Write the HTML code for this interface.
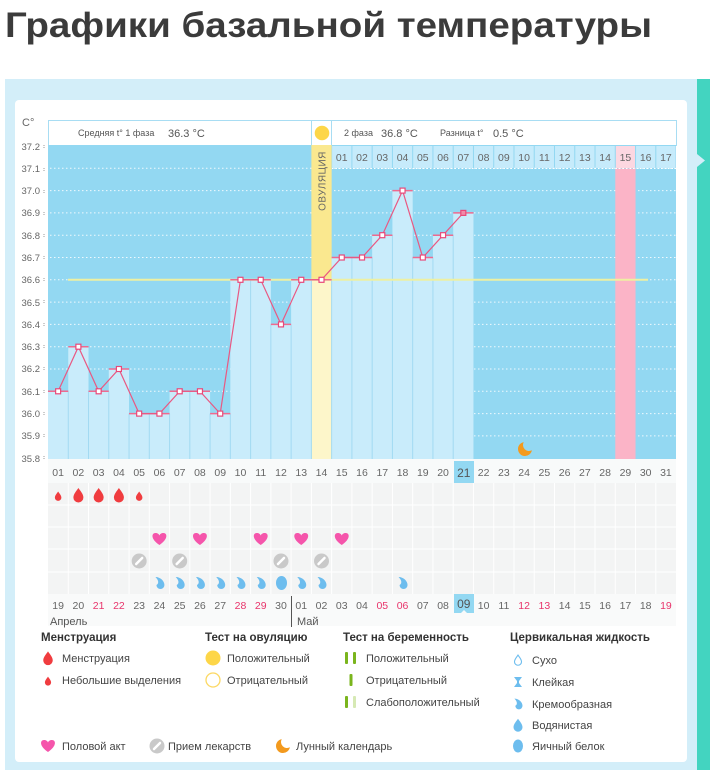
<!DOCTYPE html>
<html><head><meta charset="utf-8">
<style>
html,body{margin:0;padding:0;background:#fff;}
svg{display:block;}
text{font-family:"Liberation Sans",sans-serif;}
</style></head>
<body>
<svg width="710" height="770" viewBox="0 0 710 770" xmlns="http://www.w3.org/2000/svg">
<defs>
<path id="drop" d="M0,-7 C2,-4 5,-1 5,2.5 A5,5 0 0 1 -5,2.5 C-5,-1 -2,-4 0,-7Z"/>
<path id="heart" d="M0,6 C-9,0 -8,-6 -4,-6 C-2,-6 -0.5,-5 0,-3.5 C0.5,-5 2,-6 4,-6 C8,-6 9,0 0,6Z"/>
<g id="pill"><circle r="7.5" fill="#c9c9c9"/><line x1="-3" y1="3" x2="3" y2="-3" stroke="#fff" stroke-width="2.5" stroke-linecap="round"/></g>
<path id="cream" d="M-4,-6 C1,-6 5,-2 5,2 A4,4 0 0 1 -3,2 C-1,1 0,-2 -4,-6Z"/>
<path id="moon" d="M-1.26,-6.89 A7,7 0 1 0 6.89,1.26 A6,6 0 0 1 -1.26,-6.89Z"/>
</defs>

<!-- title -->
<text x="5" y="37" font-size="35" font-weight="bold" fill="#3b3b3b" textLength="647" lengthAdjust="spacingAndGlyphs">Графики базальной температуры</text>

<!-- panels -->
<rect x="5" y="79" width="692" height="691" fill="#d3eef9"/>
<rect x="697" y="79" width="13" height="691" fill="#43d4c0"/>
<path d="M697,154 L705,160.5 L697,167Z" fill="#d3eef9"/>
<rect x="15" y="100" width="672" height="662" rx="4" fill="#fff"/>

<!-- axis label -->
<text x="22" y="126" font-size="11" fill="#666">C°</text>

<!-- header row -->
<rect x="48.5" y="120.5" width="628" height="25" fill="#fff" stroke="#a8ddf3"/>
<line x1="311.5" y1="120" x2="311.5" y2="145" stroke="#a8ddf3"/>
<line x1="331.5" y1="120" x2="331.5" y2="145" stroke="#a8ddf3"/>
<text x="78" y="136" font-size="9" fill="#555">Средняя t° 1 фаза</text>
<text x="168" y="137" font-size="11" fill="#555">36.3 °C</text>
<circle cx="322" cy="133" r="7.3" fill="#fdd648"/>
<text x="344" y="136" font-size="9" fill="#555">2 фаза</text>
<text x="381" y="137" font-size="11" fill="#555">36.8 °C</text>
<text x="440" y="136" font-size="9" fill="#555">Разница t°</text>
<text x="493" y="137" font-size="11" fill="#555">0.5 °C</text>

<!-- chart bg -->
<rect x="48" y="145" width="628" height="314" fill="#93d8f2"/>

<!-- grid dotted -->
<g stroke="#ffffff" stroke-opacity="0.85" stroke-width="1" stroke-dasharray="1.5,2.5">
<line x1="50" y1="168.3" x2="676" y2="168.3"/>
<line x1="50" y1="190.6" x2="676" y2="190.6"/>
<line x1="50" y1="212.9" x2="676" y2="212.9"/>
<line x1="50" y1="235.2" x2="676" y2="235.2"/>
<line x1="50" y1="257.5" x2="676" y2="257.5"/>
<line x1="50" y1="279.8" x2="676" y2="279.8"/>
<line x1="50" y1="302.1" x2="676" y2="302.1"/>
<line x1="50" y1="324.4" x2="676" y2="324.4"/>
<line x1="50" y1="346.7" x2="676" y2="346.7"/>
<line x1="50" y1="369" x2="676" y2="369"/>
<line x1="50" y1="391.3" x2="676" y2="391.3"/>
<line x1="50" y1="413.6" x2="676" y2="413.6"/>
<line x1="50" y1="435.9" x2="676" y2="435.9"/>
</g>

<!-- y labels -->
<g font-size="9.5" fill="#666" text-anchor="end">
<text x="40" y="150">37.2</text>
<text x="40" y="172">37.1</text>
<text x="40" y="194">37.0</text>
<text x="40" y="216">36.9</text>
<text x="40" y="239">36.8</text>
<text x="40" y="261">36.7</text>
<text x="40" y="283">36.6</text>
<text x="40" y="306">36.5</text>
<text x="40" y="328">36.4</text>
<text x="40" y="350">36.3</text>
<text x="40" y="372">36.2</text>
<text x="40" y="395">36.1</text>
<text x="40" y="417">36.0</text>
<text x="40" y="439">35.9</text>
<text x="40" y="462">35.8</text>
</g>
<g stroke="#999" stroke-width="1" stroke-dasharray="1,1">
<line x1="44" y1="145" x2="44" y2="149"/><line x1="44" y1="168" x2="44" y2="171"/><line x1="44" y1="190" x2="44" y2="193"/><line x1="44" y1="212" x2="44" y2="216"/><line x1="44" y1="234" x2="44" y2="238"/><line x1="44" y1="256" x2="44" y2="260"/><line x1="44" y1="278" x2="44" y2="282"/><line x1="44" y1="300" x2="44" y2="304"/><line x1="44" y1="323" x2="44" y2="327"/><line x1="44" y1="345" x2="44" y2="349"/><line x1="44" y1="367" x2="44" y2="371"/><line x1="44" y1="390" x2="44" y2="394"/><line x1="44" y1="412" x2="44" y2="416"/><line x1="44" y1="434" x2="44" y2="438"/><line x1="44" y1="456" x2="44" y2="460"/>
</g>

<!-- ovulation column & pink column -->
<rect x="311.38" y="145" width="20.26" height="314" fill="#fae88f"/>
<rect x="311.38" y="279.8" width="20.26" height="179.2" fill="#fdf6ca"/>
<rect x="615.28" y="168.5" width="20.26" height="290.5" fill="#fbb4c7"/>
<text transform="translate(325.5,181) rotate(-90)" font-size="10" fill="#666" text-anchor="middle" letter-spacing="0.5">ОВУЛЯЦИЯ</text>

<!-- bars -->
<g fill="#c9ecfb">
<rect x="48" y="391.3" width="20.26" height="67.7"/>
<rect x="68.26" y="346.7" width="20.26" height="112.3"/>
<rect x="88.52" y="391.3" width="20.26" height="67.7"/>
<rect x="108.78" y="369" width="20.26" height="90"/>
<rect x="129.04" y="413.6" width="20.26" height="45.4"/>
<rect x="149.3" y="413.6" width="20.26" height="45.4"/>
<rect x="169.56" y="391.3" width="20.26" height="67.7"/>
<rect x="189.82" y="391.3" width="20.26" height="67.7"/>
<rect x="210.08" y="413.6" width="20.26" height="45.4"/>
<rect x="230.34" y="279.8" width="20.26" height="179.2"/>
<rect x="250.6" y="279.8" width="20.26" height="179.2"/>
<rect x="270.86" y="324.4" width="20.26" height="134.6"/>
<rect x="291.12" y="279.8" width="20.26" height="179.2"/>
<rect x="331.64" y="257.5" width="20.26" height="201.5"/>
<rect x="351.9" y="257.5" width="20.26" height="201.5"/>
<rect x="372.16" y="235.2" width="20.26" height="223.8"/>
<rect x="392.42" y="190.6" width="20.26" height="268.4"/>
<rect x="412.68" y="257.5" width="20.26" height="201.5"/>
<rect x="432.94" y="235.2" width="20.26" height="223.8"/>
<rect x="453.2" y="212.9" width="20.26" height="246.1"/>
</g>
<!-- bar separators -->
<g stroke="#a2daf2" stroke-width="1">
<line x1="68.26" y1="391.3" x2="68.26" y2="459"/>
<line x1="88.52" y1="391.3" x2="88.52" y2="459"/>
<line x1="108.78" y1="391.3" x2="108.78" y2="459"/>
<line x1="129.04" y1="413.6" x2="129.04" y2="459"/>
<line x1="149.3" y1="413.6" x2="149.3" y2="459"/>
<line x1="169.56" y1="413.6" x2="169.56" y2="459"/>
<line x1="189.82" y1="391.3" x2="189.82" y2="459"/>
<line x1="210.08" y1="413.6" x2="210.08" y2="459"/>
<line x1="230.34" y1="413.6" x2="230.34" y2="459"/>
<line x1="250.6" y1="279.8" x2="250.6" y2="459"/>
<line x1="270.86" y1="324.4" x2="270.86" y2="459"/>
<line x1="291.12" y1="324.4" x2="291.12" y2="459"/>
<line x1="311.38" y1="279.8" x2="311.38" y2="459"/>
<line x1="331.64" y1="279.8" x2="331.64" y2="459"/>
<line x1="351.9" y1="257.5" x2="351.9" y2="459"/>
<line x1="372.16" y1="257.5" x2="372.16" y2="459"/>
<line x1="392.42" y1="235.2" x2="392.42" y2="459"/>
<line x1="412.68" y1="257.5" x2="412.68" y2="459"/>
<line x1="432.94" y1="257.5" x2="432.94" y2="459"/>
<line x1="453.2" y1="235.2" x2="453.2" y2="459"/>
</g>

<!-- phase 2 day header row -->
<g fill="#c6ebfb">
<rect x="332.14" y="146" width="19.26" height="22"/><rect x="352.4" y="146" width="19.26" height="22"/><rect x="372.66" y="146" width="19.26" height="22"/><rect x="392.92" y="146" width="19.26" height="22"/><rect x="413.18" y="146" width="19.26" height="22"/><rect x="433.44" y="146" width="19.26" height="22"/><rect x="453.7" y="146" width="19.26" height="22"/><rect x="473.96" y="146" width="19.26" height="22"/><rect x="494.22" y="146" width="19.26" height="22"/><rect x="514.48" y="146" width="19.26" height="22"/><rect x="534.74" y="146" width="19.26" height="22"/><rect x="555" y="146" width="19.26" height="22"/><rect x="575.26" y="146" width="19.26" height="22"/><rect x="595.52" y="146" width="19.26" height="22"/><rect x="615.78" y="146" width="19.26" height="22" fill="#fcd7e1"/><rect x="636.04" y="146" width="19.26" height="22"/><rect x="656.3" y="146" width="19.26" height="22"/>
</g>
<line x1="332" y1="168.5" x2="676" y2="168.5" stroke="#fff" stroke-dasharray="1.5,2"/>
<g font-size="10.5" fill="#666" text-anchor="middle">
<text x="341.77" y="161">01</text><text x="362.03" y="161">02</text><text x="382.29" y="161">03</text><text x="402.55" y="161">04</text><text x="422.81" y="161">05</text><text x="443.07" y="161">06</text><text x="463.33" y="161">07</text><text x="483.59" y="161">08</text><text x="503.85" y="161">09</text><text x="524.11" y="161">10</text><text x="544.37" y="161">11</text><text x="564.63" y="161">12</text><text x="584.89" y="161">13</text><text x="605.15" y="161">14</text><text x="625.41" y="161">15</text><text x="645.67" y="161">16</text><text x="665.93" y="161">17</text>
</g>

<!-- cover line -->
<line x1="68" y1="279.8" x2="648" y2="279.8" stroke="#eef0a2" stroke-width="2"/>

<!-- temperature line -->
<g stroke="#ef6a8f" stroke-width="1.5">
<line x1="48" y1="391.3" x2="68.26" y2="391.3"/>
<line x1="68.26" y1="346.7" x2="88.52" y2="346.7"/>
<line x1="88.52" y1="391.3" x2="108.78" y2="391.3"/>
<line x1="108.78" y1="369" x2="129.04" y2="369"/>
<line x1="129.04" y1="413.6" x2="149.3" y2="413.6"/>
<line x1="149.3" y1="413.6" x2="169.56" y2="413.6"/>
<line x1="169.56" y1="391.3" x2="189.82" y2="391.3"/>
<line x1="189.82" y1="391.3" x2="210.08" y2="391.3"/>
<line x1="210.08" y1="413.6" x2="230.34" y2="413.6"/>
<line x1="230.34" y1="279.8" x2="250.6" y2="279.8"/>
<line x1="250.6" y1="279.8" x2="270.86" y2="279.8"/>
<line x1="270.86" y1="324.4" x2="291.12" y2="324.4"/>
<line x1="291.12" y1="279.8" x2="311.38" y2="279.8"/>
<line x1="311.38" y1="279.8" x2="331.64" y2="279.8"/>
<line x1="331.64" y1="257.5" x2="351.9" y2="257.5"/>
<line x1="351.9" y1="257.5" x2="372.16" y2="257.5"/>
<line x1="372.16" y1="235.2" x2="392.42" y2="235.2"/>
<line x1="392.42" y1="190.6" x2="412.68" y2="190.6"/>
<line x1="412.68" y1="257.5" x2="432.94" y2="257.5"/>
<line x1="432.94" y1="235.2" x2="453.2" y2="235.2"/>
<line x1="453.2" y1="212.9" x2="473.46" y2="212.9"/>
</g>
<polyline fill="none" stroke="#e95882" stroke-width="1.2" points="58.13,391.3 78.39,346.7 98.65,391.3 118.91,369 139.17,413.6 159.43,413.6 179.69,391.3 199.95,391.3 220.21,413.6 240.47,279.8 260.73,279.8 280.99,324.4 301.25,279.8 321.51,279.8 341.77,257.5 362.03,257.5 382.29,235.2 402.55,190.6 422.81,257.5 443.07,235.2 463.33,212.9"/>
<g fill="#fff" stroke="#e8497a" stroke-width="1.2">
<rect x="55.63" y="388.8" width="5" height="5"/><rect x="75.89" y="344.2" width="5" height="5"/><rect x="96.15" y="388.8" width="5" height="5"/><rect x="116.41" y="366.5" width="5" height="5"/><rect x="136.67" y="411.1" width="5" height="5"/><rect x="156.93" y="411.1" width="5" height="5"/><rect x="177.19" y="388.8" width="5" height="5"/><rect x="197.45" y="388.8" width="5" height="5"/><rect x="217.71" y="411.1" width="5" height="5"/><rect x="237.97" y="277.3" width="5" height="5"/><rect x="258.23" y="277.3" width="5" height="5"/><rect x="278.49" y="321.9" width="5" height="5"/><rect x="298.75" y="277.3" width="5" height="5"/><rect x="319.01" y="277.3" width="5" height="5"/><rect x="339.27" y="255" width="5" height="5"/><rect x="359.53" y="255" width="5" height="5"/><rect x="379.79" y="232.7" width="5" height="5"/><rect x="400.05" y="188.1" width="5" height="5"/><rect x="420.31" y="255" width="5" height="5"/><rect x="440.57" y="232.7" width="5" height="5"/><rect x="460.83" y="210.4" width="5" height="5" fill="#f08aa8"/>
</g>

<!-- moon in chart -->
<use href="#moon" transform="translate(525,449)" fill="#f39a1e"/>

<!-- day row -->
<rect x="48" y="459" width="628" height="24" fill="#f8fafa"/>
<rect x="454" y="461" width="20" height="22" fill="#93d8f2"/>
<g font-size="10.5" fill="#666" text-anchor="middle">
<text x="58.13" y="476">01</text><text x="78.39" y="476">02</text><text x="98.65" y="476">03</text><text x="118.91" y="476">04</text><text x="139.17" y="476">05</text><text x="159.43" y="476">06</text><text x="179.69" y="476">07</text><text x="199.95" y="476">08</text><text x="220.21" y="476">09</text><text x="240.47" y="476">10</text><text x="260.73" y="476">11</text><text x="280.99" y="476">12</text><text x="301.25" y="476">13</text><text x="321.51" y="476">14</text><text x="341.77" y="476">15</text><text x="362.03" y="476">16</text><text x="382.29" y="476">17</text><text x="402.55" y="476">18</text><text x="422.81" y="476">19</text><text x="443.07" y="476">20</text><text x="463.8" y="477" font-size="12" fill="#555">21</text><text x="483.59" y="476">22</text><text x="503.85" y="476">23</text><text x="524.11" y="476">24</text><text x="544.37" y="476">25</text><text x="564.63" y="476">26</text><text x="584.89" y="476">27</text><text x="605.15" y="476">28</text><text x="625.41" y="476">29</text><text x="645.67" y="476">30</text><text x="665.93" y="476">31</text>
</g>

<!-- icon grid -->
<rect x="48" y="483" width="628" height="111" fill="#f3f4f4"/>
<g stroke="#ffffff" stroke-width="1">
<line x1="48" y1="505" x2="676" y2="505"/><line x1="48" y1="527" x2="676" y2="527"/><line x1="48" y1="549" x2="676" y2="549"/><line x1="48" y1="572" x2="676" y2="572"/>
<line x1="68.26" y1="483" x2="68.26" y2="594"/><line x1="88.52" y1="483" x2="88.52" y2="594"/><line x1="108.78" y1="483" x2="108.78" y2="594"/><line x1="129.04" y1="483" x2="129.04" y2="594"/><line x1="149.3" y1="483" x2="149.3" y2="594"/><line x1="169.56" y1="483" x2="169.56" y2="594"/><line x1="189.82" y1="483" x2="189.82" y2="594"/><line x1="210.08" y1="483" x2="210.08" y2="594"/><line x1="230.34" y1="483" x2="230.34" y2="594"/><line x1="250.6" y1="483" x2="250.6" y2="594"/><line x1="270.86" y1="483" x2="270.86" y2="594"/><line x1="291.12" y1="483" x2="291.12" y2="594"/><line x1="311.38" y1="483" x2="311.38" y2="594"/><line x1="331.64" y1="483" x2="331.64" y2="594"/><line x1="351.9" y1="483" x2="351.9" y2="594"/><line x1="372.16" y1="483" x2="372.16" y2="594"/><line x1="392.42" y1="483" x2="392.42" y2="594"/><line x1="412.68" y1="483" x2="412.68" y2="594"/><line x1="432.94" y1="483" x2="432.94" y2="594"/><line x1="453.2" y1="483" x2="453.2" y2="594"/><line x1="473.46" y1="483" x2="473.46" y2="594"/><line x1="493.72" y1="483" x2="493.72" y2="594"/><line x1="513.98" y1="483" x2="513.98" y2="594"/><line x1="534.24" y1="483" x2="534.24" y2="594"/><line x1="554.5" y1="483" x2="554.5" y2="594"/><line x1="574.76" y1="483" x2="574.76" y2="594"/><line x1="595.02" y1="483" x2="595.02" y2="594"/><line x1="615.28" y1="483" x2="615.28" y2="594"/><line x1="635.54" y1="483" x2="635.54" y2="594"/><line x1="655.8" y1="483" x2="655.8" y2="594"/>
</g>

<!-- menstruation -->
<g fill="#f03c3f">
<use href="#drop" transform="translate(58.13,496) scale(0.65)"/>
<use href="#drop" transform="translate(78.39,495) scale(1)"/>
<use href="#drop" transform="translate(98.65,495) scale(1)"/>
<use href="#drop" transform="translate(118.91,495) scale(1)"/>
<use href="#drop" transform="translate(139.17,496) scale(0.65)"/>
</g>
<!-- hearts -->
<g fill="#f555ab">
<use href="#heart" transform="translate(159.43,539)"/>
<use href="#heart" transform="translate(199.95,539)"/>
<use href="#heart" transform="translate(260.73,539)"/>
<use href="#heart" transform="translate(301.25,539)"/>
<use href="#heart" transform="translate(341.77,539)"/>
</g>
<!-- pills -->
<use href="#pill" transform="translate(139.17,561)"/>
<use href="#pill" transform="translate(179.69,561)"/>
<use href="#pill" transform="translate(280.99,561)"/>
<use href="#pill" transform="translate(321.51,561)"/>
<!-- fluids -->
<g fill="#6dbdee">
<use href="#cream" transform="translate(159.43,583)"/>
<use href="#cream" transform="translate(179.69,583)"/>
<use href="#cream" transform="translate(199.95,583)"/>
<use href="#cream" transform="translate(220.21,583)"/>
<use href="#cream" transform="translate(240.47,583)"/>
<use href="#cream" transform="translate(260.73,583)"/>
<ellipse cx="281.5" cy="583" rx="5.5" ry="7"/>
<use href="#cream" transform="translate(301.25,583)"/>
<use href="#cream" transform="translate(321.51,583)"/>
<use href="#cream" transform="translate(402.55,583)"/>
</g>

<!-- bottom date row -->
<rect x="48" y="594" width="628" height="32" fill="#f9fafa"/>
<rect x="454" y="594" width="20" height="19" fill="#93d8f2"/>
<path d="M461,613 L464,610 L467,613Z" fill="#f9fafa"/>
<line x1="291.5" y1="596" x2="291.5" y2="627" stroke="#555" stroke-width="1"/>
<g font-size="10.5" fill="#666" text-anchor="middle">
<text x="58.13" y="609">19</text><text x="78.39" y="609">20</text><text x="98.65" y="609" fill="#e8346b">21</text><text x="118.91" y="609" fill="#e8346b">22</text><text x="139.17" y="609">23</text><text x="159.43" y="609">24</text><text x="179.69" y="609">25</text><text x="199.95" y="609">26</text><text x="220.21" y="609">27</text><text x="240.47" y="609" fill="#e8346b">28</text><text x="260.73" y="609" fill="#e8346b">29</text><text x="280.99" y="609">30</text><text x="301.25" y="609">01</text><text x="321.51" y="609">02</text><text x="341.77" y="609">03</text><text x="362.03" y="609">04</text><text x="382.29" y="609" fill="#e8346b">05</text><text x="402.55" y="609" fill="#e8346b">06</text><text x="422.81" y="609">07</text><text x="443.07" y="609">08</text><text x="463.8" y="608" font-size="12" fill="#555">09</text><text x="483.59" y="609">10</text><text x="503.85" y="609">11</text><text x="524.11" y="609" fill="#e8346b">12</text><text x="544.37" y="609" fill="#e8346b">13</text><text x="564.63" y="609">14</text><text x="584.89" y="609">15</text><text x="605.15" y="609">16</text><text x="625.41" y="609">17</text><text x="645.67" y="609">18</text><text x="665.93" y="609" fill="#e8346b">19</text>
</g>
<text x="50" y="625" font-size="11" fill="#555">Апрель</text>
<text x="297" y="625" font-size="11" fill="#555">Май</text>

<!-- legend -->
<g font-size="11.5" font-weight="bold" fill="#333">
<text x="41" y="641">Менструация</text>
<text x="205" y="641">Тест на овуляцию</text>
<text x="343" y="641">Тест на беременность</text>
<text x="510" y="641">Цервикальная жидкость</text>
</g>
<g font-size="11" fill="#444">
<text x="62" y="662">Менструация</text>
<text x="62" y="684">Небольшие выделения</text>
<text x="227" y="662">Положительный</text>
<text x="227" y="684">Отрицательный</text>
<text x="366" y="662">Положительный</text>
<text x="366" y="684">Отрицательный</text>
<text x="366" y="706">Слабоположительный</text>
<text x="532" y="664">Сухо</text>
<text x="532" y="686">Клейкая</text>
<text x="532" y="708">Кремообразная</text>
<text x="532" y="729">Водянистая</text>
<text x="532" y="750">Яичный белок</text>
<text x="62" y="750">Половой акт</text>
<text x="168" y="750">Прием лекарств</text>
<text x="296" y="750">Лунный календарь</text>
</g>
<g fill="#f03c3f">
<use href="#drop" transform="translate(48,658) scale(0.95)"/>
<use href="#drop" transform="translate(48,681) scale(0.62)"/>
</g>
<circle cx="213" cy="658" r="7.5" fill="#fdd648"/>
<circle cx="213" cy="680" r="7" fill="#fff" stroke="#fcd862" stroke-width="1.3"/>
<g fill="#7ab51d">
<rect x="345" y="652" width="3" height="12" rx="1"/>
<rect x="353" y="652" width="3" height="12" rx="1"/>
<rect x="349.5" y="674" width="3" height="12" rx="1"/>
<rect x="345" y="696" width="3" height="12" rx="1"/>
<rect x="353" y="696" width="3" height="12" rx="1" fill="#d6e9b4"/>
</g>
<use href="#drop" transform="translate(518,660) scale(0.7)" fill="none" stroke="#6dbdee" stroke-width="1.6"/>
<path d="M514,677 H522 L519,681 V683 L522,687 H514 L517,683 V681Z" fill="#6dbdee"/>
<use href="#cream" transform="translate(518,704) scale(0.9)" fill="#6dbdee"/>
<use href="#drop" transform="translate(518,725) scale(0.9)" fill="#6dbdee"/>
<ellipse cx="518" cy="746" rx="5" ry="6.5" fill="#6dbdee"/>
<use href="#heart" transform="translate(48,746)" fill="#f555ab"/>
<use href="#pill" transform="translate(157,746)"/>
<use href="#moon" transform="translate(283,746)" fill="#f39a1e"/>
</svg>
</body></html>
